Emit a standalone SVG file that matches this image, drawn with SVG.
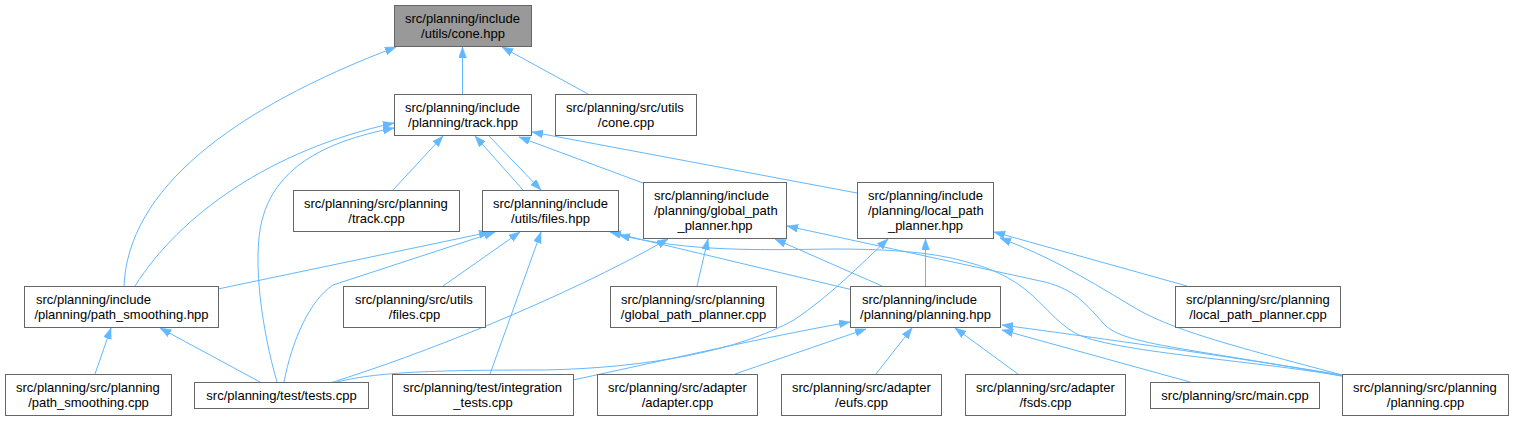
<svg xmlns="http://www.w3.org/2000/svg" width="1515" height="421" viewBox="0 0 1515 421">
<style>
.node rect{fill:#ffffff;stroke:#666666;stroke-width:1}
.node rect.main{fill:#999999}
.node text{font-family:"Liberation Sans",Arial,Helvetica,sans-serif;font-size:13px;fill:#000000}
.node text.c{text-anchor:middle}
.edge{fill:none;stroke:#63b8ff;stroke-width:1;marker-end:url(#ah)}
</style>
<defs>
<marker id="ah" markerUnits="userSpaceOnUse" markerWidth="12" markerHeight="9" refX="11" refY="4" orient="auto" viewBox="0 0 12 9">
<path d="M0,0 L11,4 L0,8 z" fill="#63b8ff" stroke="#63b8ff" stroke-width="0.5"/>
</marker>
</defs>
<rect width="1515" height="421" fill="#ffffff"/>
<g id="connectors">
<path class="edge" d="M462.5,94 L462.5,47"/>
<path class="edge" d="M588,94 L502,47"/>
<path class="edge" d="M124,286 C128,190 230,110 396,47"/>
<path class="edge" d="M135,286 C180,215 270,150 394,123"/>
<path class="edge" d="M277,382 C262,330 252,260 262,220 C275,170 320,142 394,128"/>
<path class="edge" d="M393,190 L443,136"/>
<path class="edge" d="M523,190 L475,136"/>
<path class="edge" d="M488,135 L541,190"/>
<path class="edge" d="M643,183 L519,137"/>
<path class="edge" d="M857,193 L532,132"/>
<path class="edge" d="M218,289 L490,232"/>
<path class="edge" d="M284,382 C292,340 310,300 333,285 L495,232"/>
<path class="edge" d="M443,286 L520,232"/>
<path class="edge" d="M490,374 L541,232"/>
<path class="edge" d="M853,290 L610,232"/>
<path class="edge" d="M1342,376 C1250,360 1110,352 1075,333 C1040,312 1035,280 967,262 C930,251 880,249 833,249 C760,250 690,252 619,235"/>
<path class="edge" d="M330,383 C420,355 560,300 668,239"/>
<path class="edge" d="M697,286 L708,239"/>
<path class="edge" d="M882,286 L775,239"/>
<path class="edge" d="M1342,376 C1190,348 1125,345 1105,325 C1085,303 1075,290 1045,282 L787,226"/>
<path class="edge" d="M330,384 C370,372 430,370 544,370 C650,368 740,350 794,320 C830,296 860,265 888,239"/>
<path class="edge" d="M925.5,286 L925.5,239"/>
<path class="edge" d="M1187,286 L994,232"/>
<path class="edge" d="M1342,375 C1230,345 1170,330 1130,305 C1080,275 1050,257 1000,238"/>
<path class="edge" d="M573,380 C680,357 760,338 850,322"/>
<path class="edge" d="M735,374 L866,329"/>
<path class="edge" d="M876,374 L912,328"/>
<path class="edge" d="M1018,374 L955,328"/>
<path class="edge" d="M1190,382 L1002,330"/>
<path class="edge" d="M1342,375 C1250,360 1150,345 1002,325"/>
<path class="edge" d="M95,374 L111,328"/>
<path class="edge" d="M260,382 L160,328"/>
</g>
<g id="n_cone_hpp" class="node"><rect class="main" x="394.5" y="5.5" width="137" height="41"/><text x="405" y="23">src/planning/include</text><text class="c" x="463" y="38">/utils/cone.hpp</text></g>
<g id="n_track_hpp" class="node"><rect x="394.5" y="94.5" width="137" height="41"/><text x="405" y="112">src/planning/include</text><text class="c" x="463" y="127">/planning/track.hpp</text></g>
<g id="n_cone_cpp" class="node"><rect x="555.5" y="94.5" width="141" height="41"/><text x="566" y="112">src/planning/src/utils</text><text class="c" x="626" y="127">/cone.cpp</text></g>
<g id="n_track_cpp" class="node"><rect x="293.5" y="190.5" width="166" height="41"/><text x="304" y="208">src/planning/src/planning</text><text class="c" x="376.5" y="223">/track.cpp</text></g>
<g id="n_files_hpp" class="node"><rect x="482.5" y="190.5" width="136" height="41"/><text x="493" y="208">src/planning/include</text><text class="c" x="550.5" y="223">/utils/files.hpp</text></g>
<g id="n_global_path_planner_hpp" class="node"><rect x="643.5" y="182.5" width="143" height="56"/><text x="654" y="200">src/planning/include</text><text x="654" y="215">/planning/global_path</text><text class="c" x="715" y="230">_planner.hpp</text></g>
<g id="n_local_path_planner_hpp" class="node"><rect x="857.5" y="182.5" width="136" height="56"/><text x="868" y="200">src/planning/include</text><text x="868" y="215">/planning/local_path</text><text class="c" x="925.5" y="230">_planner.hpp</text></g>
<g id="n_path_smoothing_hpp" class="node"><rect x="24.5" y="286.5" width="194" height="41"/><text x="36" y="304">src/planning/include</text><text class="c" x="121.5" y="319">/planning/path_smoothing.hpp</text></g>
<g id="n_files_cpp" class="node"><rect x="343.5" y="286.5" width="142" height="41"/><text x="355" y="304">src/planning/src/utils</text><text class="c" x="414.5" y="319">/files.cpp</text></g>
<g id="n_global_path_planner_cpp" class="node"><rect x="610.5" y="286.5" width="166" height="41"/><text x="621" y="304">src/planning/src/planning</text><text class="c" x="693.5" y="319">/global_path_planner.cpp</text></g>
<g id="n_planning_hpp" class="node"><rect x="850.5" y="286.5" width="150" height="41"/><text x="862" y="304">src/planning/include</text><text class="c" x="925.5" y="319">/planning/planning.hpp</text></g>
<g id="n_local_path_planner_cpp" class="node"><rect x="1175.5" y="286.5" width="165" height="41"/><text x="1186" y="304">src/planning/src/planning</text><text class="c" x="1258" y="319">/local_path_planner.cpp</text></g>
<g id="n_path_smoothing_cpp" class="node"><rect x="5.5" y="374.5" width="166" height="41"/><text x="16" y="392">src/planning/src/planning</text><text class="c" x="88.5" y="407">/path_smoothing.cpp</text></g>
<g id="n_tests_cpp" class="node"><rect x="194.5" y="382.5" width="174" height="26"/><text class="c" x="281.5" y="400">src/planning/test/tests.cpp</text></g>
<g id="n_integration_tests_cpp" class="node"><rect x="392.5" y="374.5" width="181" height="41"/><text x="403" y="392">src/planning/test/integration</text><text class="c" x="483" y="407">_tests.cpp</text></g>
<g id="n_adapter_cpp" class="node"><rect x="597.5" y="374.5" width="160" height="41"/><text x="608" y="392">src/planning/src/adapter</text><text class="c" x="677.5" y="407">/adapter.cpp</text></g>
<g id="n_eufs_cpp" class="node"><rect x="781.5" y="374.5" width="160" height="41"/><text x="792" y="392">src/planning/src/adapter</text><text class="c" x="861.5" y="407">/eufs.cpp</text></g>
<g id="n_fsds_cpp" class="node"><rect x="965.5" y="374.5" width="160" height="41"/><text x="976" y="392">src/planning/src/adapter</text><text class="c" x="1045.5" y="407">/fsds.cpp</text></g>
<g id="n_main_cpp" class="node"><rect x="1150.5" y="382.5" width="169" height="26"/><text class="c" x="1235" y="400">src/planning/src/main.cpp</text></g>
<g id="n_planning_cpp" class="node"><rect x="1342.5" y="374.5" width="166" height="41"/><text x="1353" y="392">src/planning/src/planning</text><text class="c" x="1425.5" y="407">/planning.cpp</text></g>
</svg>
